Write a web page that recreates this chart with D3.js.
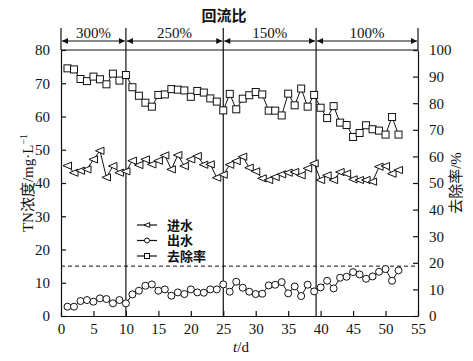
<!DOCTYPE html>
<html>
<head>
<meta charset="utf-8">
<script src="https://cdn.jsdelivr.net/npm/d3@7"></script>
<style>
  body { margin: 0; background: #fff; }
  svg { display: block; }
  text { fill: #111; }
</style>
</head>
<body>
<svg width="473" height="361"></svg>
<script>
// days 1..52
const days = d3.range(1, 53);
const influent = [45.2, 43.1, 43.7, 44.1, 47.1, 49.7, 41.7, 45.1, 43.1, 43.5,
  46.7, 45.4, 47.1, 45.6, 46.7, 48.3, 44.1, 48.4, 45.1, 47.1,
  48.1, 45.5, 45.6, 41.6, 42.5, 45.5, 46.6, 47.9, 44.6, 43.5,
  41.4, 40.9, 41.8, 42.6, 43.1, 43.3, 42.3, 44.4, 45.9, 40.9,
  42.3, 40.9, 43.3, 42.8, 41.1, 40.9, 40.9, 40.4, 44.9, 45.1,
  42.8, 43.9];
const effluent = [2.8, 2.8, 4.5, 4.8, 4.3, 5.3, 5.1, 3.8, 4.8, 3.8,
  6.5, 7.6, 9.1, 9.5, 7.6, 8.0, 6.1, 7.1, 6.6, 8.0,
  7.1, 7.0, 8.0, 8.0, 9.5, 7.3, 10.3, 8.5, 7.3, 6.6,
  6.7, 9.2, 9.4, 10.2, 6.8, 8.9, 6.0, 9.4, 7.4, 8.6,
  10.6, 8.3, 11.5, 11.8, 13.2, 12.5, 11.2, 11.9, 13.3, 14.1,
  10.6, 13.7];
const removal = [93.1, 92.7, 89.1, 88.3, 90.0, 89.0, 87.1, 91.1, 88.5, 90.6,
  86.0, 82.8, 80.2, 78.7, 83.1, 83.3, 85.3, 85.1, 84.8, 82.4,
  84.6, 84.0, 81.8, 80.6, 77.3, 83.5, 77.7, 81.7, 83.0, 84.2,
  83.3, 77.2, 77.2, 75.4, 83.6, 79.2, 85.5, 78.7, 83.1, 78.3,
  74.4, 78.9, 72.7, 71.8, 67.3, 68.8, 71.7, 70.2, 69.7, 68.2,
  74.8, 68.2];

// reflux ratio phases
const phaseLabels = ["300%", "250%", "150%", "100%"];
const phaseBounds = [0, 10, 25, 39.3, 55];

const xTicks = d3.range(0, 56, 5);
const leftTicks = d3.range(0, 81, 10);
const rightTicks = d3.range(0, 101, 10);
const limitLine = 15;

const legendItems = ["进水", "出水", "去除率"];

const svg = d3.select("svg");
const mLeft = 61, mRight = 418, mTop = 50, mBottom = 316;

const x = d3.scaleLinear().domain([0, 55]).range([mLeft, mRight]);
const yL = d3.scaleLinear().domain([0, 80]).range([mBottom, mTop]);
const yR = d3.scaleLinear().domain([0, 100]).range([mBottom, mTop]);

const serif = "'Liberation Serif', 'DejaVu Serif', serif";
const cjk = "'Noto Sans CJK SC', sans-serif";

// axes with inward ticks
const gx = svg.append("g").attr("transform", `translate(0,${mBottom})`)
  .call(d3.axisBottom(x).tickValues(xTicks).tickSizeInner(-5).tickSizeOuter(0).tickPadding(10));
const gl = svg.append("g").attr("transform", `translate(${mLeft},0)`)
  .call(d3.axisLeft(yL).tickValues(leftTicks).tickSizeInner(-5).tickSizeOuter(0).tickPadding(11));
const gr = svg.append("g").attr("transform", `translate(${mRight},0)`)
  .call(d3.axisRight(yR).tickValues(rightTicks).tickSizeInner(-5).tickSizeOuter(0).tickPadding(11));
[gx, gl, gr].forEach(g => {
  g.selectAll("path, line").attr("stroke", "#111").attr("stroke-width", 1.2);
  g.selectAll("text").attr("font-family", serif).attr("font-size", 15).attr("fill", "#111");
});
gx.selectAll("text").attr("dy", "0.55em");

// top frame line
svg.append("line").attr("x1", mLeft).attr("x2", mRight).attr("y1", mTop).attr("y2", mTop)
  .attr("stroke", "#111").attr("stroke-width", 1.2);

// phase dividers
svg.selectAll(".div").data(phaseBounds).enter().append("line")
  .attr("x1", d => x(d)).attr("x2", d => x(d))
  .attr("y1", 28).attr("y2", d => (d === 0 || d === 55) ? mTop : mBottom)
  .attr("stroke", "#111").attr("stroke-width", 1.2);

// arrows
const defs = svg.append("defs");
defs.append("marker").attr("id", "ah").attr("viewBox", "0 0 10 10")
  .attr("refX", 10).attr("refY", 5).attr("markerWidth", 8).attr("markerHeight", 6)
  .attr("markerUnits", "userSpaceOnUse").attr("orient", "auto-start-reverse")
  .append("path").attr("d", "M0,0L10,5L0,10z").attr("fill", "#111");

phaseLabels.forEach((lab, i) => {
  const a = x(phaseBounds[i]), b = x(phaseBounds[i + 1]);
  svg.append("line").attr("x1", a + 1).attr("x2", b - 1).attr("y1", 41).attr("y2", 41)
    .attr("stroke", "#111").attr("stroke-width", 1)
    .attr("marker-start", "url(#ah)").attr("marker-end", "url(#ah)");
  svg.append("text").attr("x", (a + b) / 2).attr("y", 38).attr("text-anchor", "middle")
    .attr("font-family", serif).attr("font-size", 15).text(lab);
});

svg.append("text").attr("x", 224).attr("y", 21).attr("text-anchor", "middle")
  .attr("font-family", cjk).attr("font-weight", "bold").attr("font-size", 15).text("回流比");

// dashed limit line
svg.append("line").attr("x1", mLeft).attr("x2", mRight)
  .attr("y1", yL(limitLine)).attr("y2", yL(limitLine))
  .attr("stroke", "#111").attr("stroke-width", 1).attr("stroke-dasharray", "4,3");

// series
const lineL = vals => d3.line().x((d, i) => x(days[i])).y(d => yL(d))(vals);
const lineR = vals => d3.line().x((d, i) => x(days[i])).y(d => yR(d))(vals);

function drawLine(path) {
  svg.append("path").attr("d", path).attr("fill", "none").attr("stroke", "#111").attr("stroke-width", 1);
}
drawLine(lineR(removal));
drawLine(lineL(influent));
drawLine(lineL(effluent));

const triPath = s => `M${-s},0L${s * 0.9},${-s * 0.8}L${s * 0.9},${s * 0.8}Z`;

svg.selectAll(".sq").data(removal).enter().append("rect")
  .attr("x", (d, i) => x(days[i]) - 3.5).attr("y", d => yR(d) - 3.5)
  .attr("width", 7).attr("height", 7)
  .attr("fill", "#fff").attr("stroke", "#111").attr("stroke-width", 1);

svg.selectAll(".tri").data(influent).enter().append("path")
  .attr("transform", (d, i) => `translate(${x(days[i])},${yL(d)})`)
  .attr("d", triPath(4.5))
  .attr("fill", "#fff").attr("stroke", "#111").attr("stroke-width", 1);

svg.selectAll(".cir").data(effluent).enter().append("circle")
  .attr("cx", (d, i) => x(days[i])).attr("cy", d => yL(d)).attr("r", 3.5)
  .attr("fill", "#fff").attr("stroke", "#111").attr("stroke-width", 1);

// legend
const lg = svg.append("g");
legendItems.forEach((lab, i) => {
  const yy = 225 + i * 15.5;
  lg.append("line").attr("x1", 137).attr("x2", 157).attr("y1", yy).attr("y2", yy)
    .attr("stroke", "#111").attr("stroke-width", 1.2);
  if (i === 0) {
    lg.append("path").attr("transform", `translate(147,${yy})`).attr("d", triPath(3))
      .attr("fill", "#fff").attr("stroke", "#111");
  } else if (i === 1) {
    lg.append("circle").attr("cx", 147).attr("cy", yy).attr("r", 2.5)
      .attr("fill", "#fff").attr("stroke", "#111");
  } else {
    lg.append("rect").attr("x", 144.5).attr("y", yy - 2.5).attr("width", 5).attr("height", 5)
      .attr("fill", "#fff").attr("stroke", "#111");
  }
  lg.append("text").attr("x", 167).attr("y", yy + 4.5).attr("font-family", cjk)
    .attr("font-size", 13).attr("font-weight", "bold").text(lab);
});

// axis titles
const tl = svg.append("text").attr("transform", "translate(33,183) rotate(-90)")
  .attr("text-anchor", "middle").attr("font-size", 15);
tl.append("tspan").attr("font-family", serif).text("TN");
tl.append("tspan").attr("font-family", cjk).text("浓度");
tl.append("tspan").attr("font-family", serif).text("/mg·L");
tl.append("tspan").attr("font-family", serif).attr("font-size", 10).attr("dy", -6).text("−1");

const tr = svg.append("text").attr("transform", "translate(461,183) rotate(-90)")
  .attr("text-anchor", "middle").attr("font-size", 15);
tr.append("tspan").attr("font-family", cjk).text("去除率");
tr.append("tspan").attr("font-family", serif).text("/%");

const tx = svg.append("text").attr("x", 241).attr("y", 352).attr("text-anchor", "middle")
  .attr("font-family", serif).attr("font-size", 15);
tx.append("tspan").attr("font-style", "italic").text("t");
tx.append("tspan").text("/d");
</script>
</body>
</html>
